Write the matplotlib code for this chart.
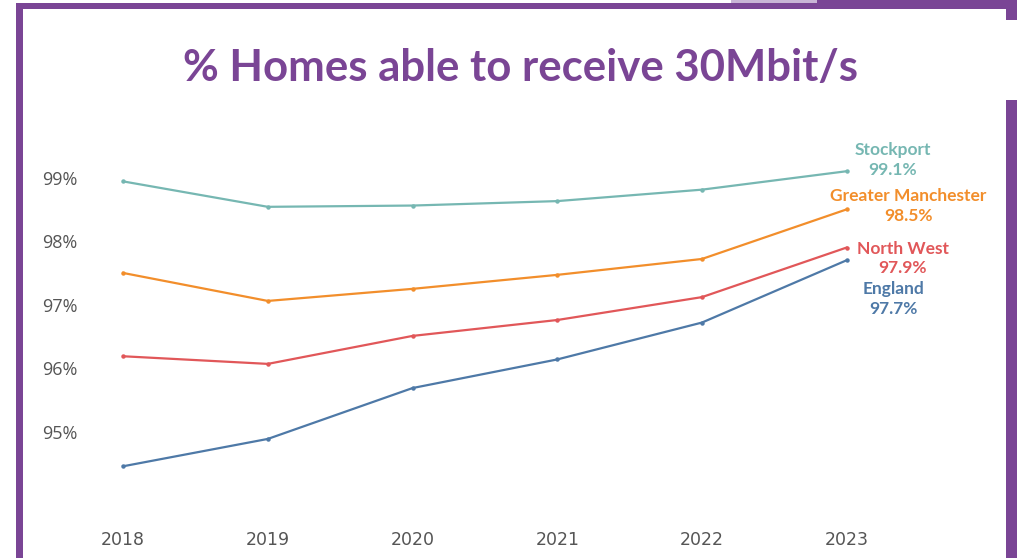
import matplotlib.pyplot as plt
from matplotlib.patches import Rectangle

# % of homes able to receive 30Mbit/s broadband
years = [2018, 2019, 2020, 2021, 2022, 2023]
stockport = [98.94, 98.54, 98.56, 98.63, 98.81, 99.1]
greater_manchester = [97.50, 97.06, 97.25, 97.47, 97.72, 98.5]
north_west = [96.19, 96.07, 96.51, 96.76, 97.12, 97.9]
england = [94.46, 94.89, 95.69, 96.14, 96.72, 97.7]

series_names = ['Stockport', 'Greater Manchester', 'North West', 'England']
series_values = [stockport, greater_manchester, north_west, england]
colours = ['#76B7B2', '#F28E2B', '#E15759', '#4E79A7']
# where each end label sits relative to the 2023 point (pixels)
label_offsets = [(46, 11), (62, 3), (56, -11), (47, -39)]

y_ticks = [95, 96, 97, 98, 99]
purple = '#7A4595'

fig = plt.figure(figsize=(10.17, 5.58), dpi=100)
ax = fig.add_axes([0.0983, 0.104, 0.757, 0.645])

for name, vals, col, off in zip(series_names, series_values, colours, label_offsets):
    ax.plot(years, vals, color=col, lw=1.6, marker='o', ms=2.2)
    ax.annotate(f'{name}\n{vals[-1]:.1f}%', xy=(years[-1], vals[-1]),
                xytext=off, textcoords='offset pixels',
                ha='center', va='center', color=col, fontsize=12.5,
                fontweight='bold', family=['Lato', 'DejaVu Sans'],
                linespacing=1.3, annotation_clip=False)

ax.set_xlim(2017.84, 2023.16)
ax.set_ylim(93.93, 99.59)
ax.set_xticks(years)
ax.set_xticklabels([str(y) for y in years], fontsize=12.5, color='#555555',
                   family=['Liberation Sans Narrow', 'DejaVu Sans'])
ax.set_yticks(y_ticks)
ax.set_yticklabels([f'{t}%' for t in y_ticks], fontsize=13, color='#555555',
                   family=['Open Sans', 'DejaVu Sans'])
ax.tick_params(axis='x', length=0, pad=22)
ax.tick_params(axis='y', length=0, pad=16)
for s in ax.spines.values():
    s.set_visible(False)

fig.text(0.512, 0.878, '% Homes able to receive 30Mbit/s', ha='center', va='center',
         fontsize=31.5, fontweight='bold', color=purple,
         family=['Lato', 'DejaVu Sans'])

# purple frame around the panel
W, H = 1017, 558
def frame(x0, y0, x1, y1, colour=purple):
    fig.patches.append(Rectangle((x0 / W, 1 - y1 / H), (x1 - x0) / W, (y1 - y0) / H,
                                 transform=fig.transFigure, color=colour, lw=0, zorder=5))

frame(16, 3, 1017, 9)
frame(16, 3, 23, 558)
frame(817, 0, 1017, 9)
frame(731, 0, 817, 3, '#C9B5D6')
frame(1006, 0, 1017, 20)
frame(1006, 100, 1017, 558)

fig.savefig('out.png', dpi=100)
